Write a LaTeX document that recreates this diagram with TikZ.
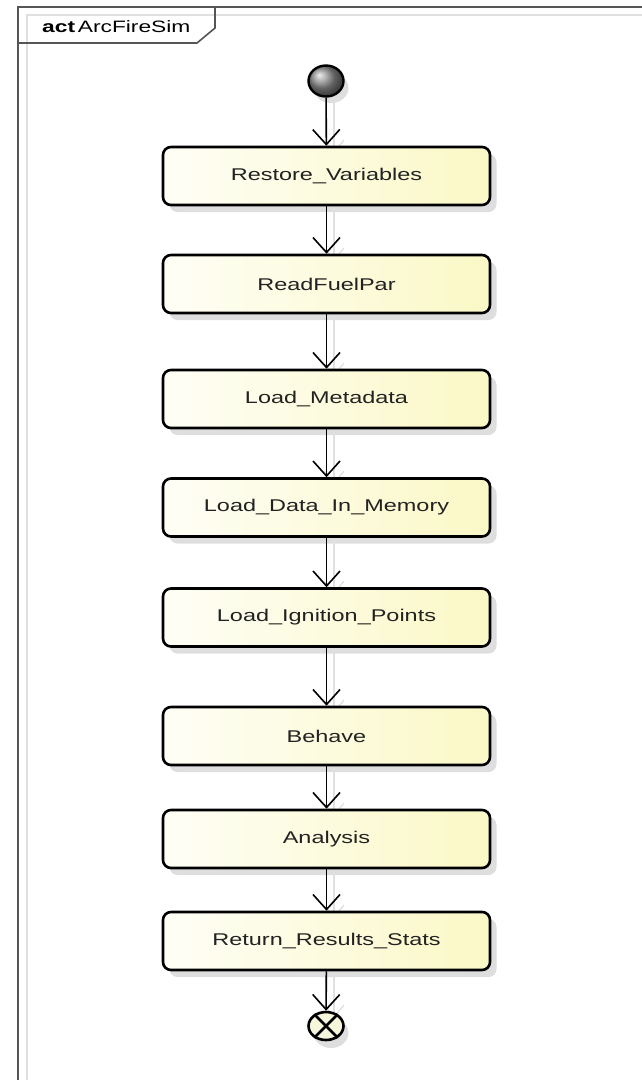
\documentclass[tikz,border=0pt]{standalone}
\usepackage{fontspec}
\usepackage{graphicx}
\setmainfont{Liberation Sans}
\usetikzlibrary{shapes.geometric,arrows.meta}

% UML activity labels are set wide
\newcommand{\widetext}[1]{\scalebox{1.38}[1]{#1}}

\definecolor{frameline}{HTML}{555555}
\definecolor{actleft}{HTML}{FEFEF6}
\definecolor{actright}{HTML}{FBF8C6}
\definecolor{finalfill}{HTML}{F6F6DC}

\tikzset{
  action/.style={rectangle, rounded corners=8pt, draw=black, line width=2.6pt,
    minimum width=327pt, minimum height=58pt, inner sep=0pt,
    left color=actleft, right color=actright,
    font=\fontsize{17}{19}\selectfont\color[HTML]{222222}},
  boxshadow/.style={rectangle, rounded corners=8pt, fill=black, opacity=0.13,
    minimum width=327pt, minimum height=58pt, inner sep=0pt},
  flow/.style={line width=1.6pt, -{Straight Barb[length=15pt,width=27pt,line width=1.6pt]}},
  flowshadow/.style={line width=1.3pt, draw=black!12,
    -{Straight Barb[length=12pt,width=20pt,line width=1.2pt]}},
  initial/.style={ellipse, draw=black, line width=2.4pt, minimum width=35pt,
    minimum height=31pt, inner sep=0pt, ball color=black!45},
  final/.style={ellipse, draw=black, line width=2.6pt, minimum width=35pt,
    minimum height=28pt, inner sep=0pt, fill=finalfill},
  roundshadow/.style={ellipse, fill=black, opacity=0.13, minimum width=35pt,
    minimum height=30pt, inner sep=0pt},
}

\begin{document}
\begin{tikzpicture}[x=1pt,y=-1pt]
  \useasboundingbox (0,0) rectangle (642,1080);
  \fill[white] (0,0) rectangle (642,1080);

  % diagram frame with its name tab
  \draw[black!12, line width=1.5pt] (27,1080) -- (27,15) -- (642,15);
  \draw[frameline, line width=2pt] (18,1080) -- (18,7) -- (642,7);
  \draw[frameline, line width=1.6pt] (215,7) -- (215,28) -- (197,43) -- (18,43);
  \node[anchor=base west, inner sep=0pt, font=\fontsize{16.5}{18}\selectfont]
    (title) at (42,32) {\widetext{\textbf{act}}\,\widetext{ArcFireSim}};

  % shadows of nodes
  \foreach \y in {176,284,399,507.5,617.5,736,839,941}
    \node[boxshadow] at (333,\y+7) {};
  \node[roundshadow] at (331,88) {};
  \node[roundshadow] at (331,1033) {};

  % connector shadows
  \foreach \a/\b in {97/147,205/255,313/370,428/478,537/588,647/707,765/810,868/912,970/1012}
    \draw[flowshadow] (334,\a+3) -- (334,\b+6);

  % nodes
  \node[initial] (start) at (326,81) {};
  \node[action] (restore) at (326.5,176) {\widetext{Restore\_Variables}};
  \node[action] (readfuel) at (326.5,284) {\widetext{ReadFuelPar}};
  \node[action] (metadata) at (326.5,399) {\widetext{Load\_Metadata}};
  \node[action] (memory) at (326.5,507.5) {\widetext{Load\_Data\_In\_Memory}};
  \node[action] (ignition) at (326.5,617.5) {\widetext{Load\_Ignition\_Points}};
  \node[action] (behave) at (326.5,736) {\widetext{Behave}};
  \node[action] (analysis) at (326.5,839) {\widetext{Analysis}};
  \node[action] (results) at (326.5,941) {\widetext{Return\_Results\_Stats}};
  \node[final] (finish) at (326,1026) {};
  \draw[line width=2.6pt] (finish.45) -- (finish.225) (finish.135) -- (finish.315);

  % control flow
  \draw[flow] (start) -- (restore);
  \draw[flow] (restore) -- (readfuel);
  \draw[flow] (readfuel) -- (metadata);
  \draw[flow] (metadata) -- (memory);
  \draw[flow] (memory) -- (ignition);
  \draw[flow] (ignition) -- (behave);
  \draw[flow] (behave) -- (analysis);
  \draw[flow] (analysis) -- (results);
  \draw[flow] (results) -- (finish);
\end{tikzpicture}
\end{document}
